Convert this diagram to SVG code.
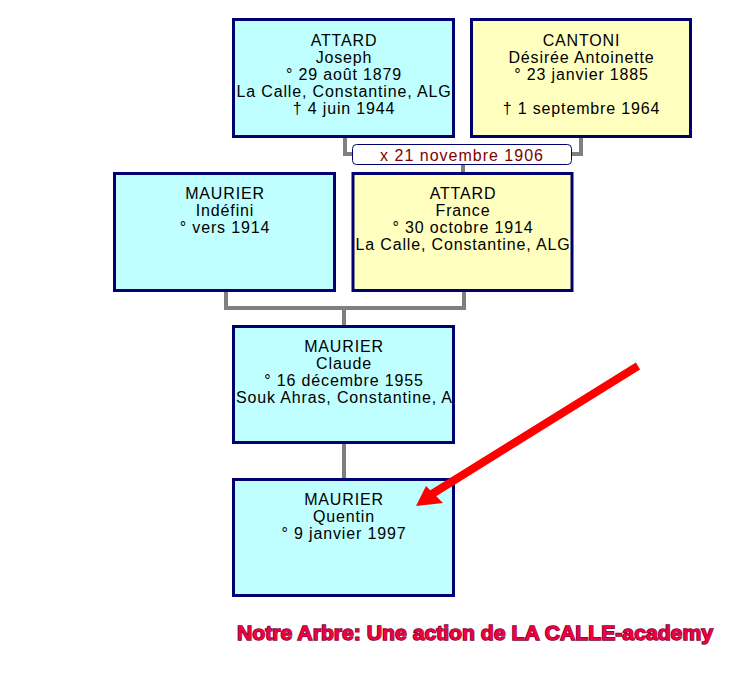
<svg xmlns="http://www.w3.org/2000/svg" width="732" height="674" viewBox="0 0 732 674">
<style>
.box{stroke:#000070;stroke-width:3}
.m{fill:#c0ffff}
.f{fill:#ffffc0}
.t{font-family:"Liberation Sans",Arial,sans-serif;font-size:16px;letter-spacing:0.85px;fill:#000;text-anchor:middle}
.conn{fill:none;stroke:#808080;stroke-width:4}
</style>
<defs>
<clipPath id="c1"><rect x="235" y="21" width="217" height="114"/></clipPath>
<clipPath id="c2"><rect x="473" y="21" width="217" height="114"/></clipPath>
<clipPath id="c3"><rect x="116" y="175" width="217" height="114"/></clipPath>
<clipPath id="c4"><rect x="354" y="175" width="217" height="114"/></clipPath>
<clipPath id="c5"><rect x="235" y="328" width="217" height="113"/></clipPath>
<clipPath id="c6"><rect x="235" y="481" width="217" height="113"/></clipPath>
</defs>
<rect width="732" height="674" fill="#fff"/>
<g id="connectors">
<path class="conn" d="M345 137V154H353"/>
<path class="conn" d="M581 137V154H572"/>
<path class="conn" d="M463 165V172"/>
<path class="conn" d="M226 291V308H464V291"/>
<path class="conn" d="M344 308V325"/>
<path class="conn" d="M344 443V478"/>
</g>
<g id="n1">
<rect class="box m" x="233.5" y="19.5" width="220" height="117"/>
<g clip-path="url(#c1)">
<text class="t" x="344" y="46">ATTARD</text>
<text class="t" x="344" y="63">Joseph</text>
<text class="t" x="344" y="80">° 29 août 1879</text>
<text class="t" x="344" y="97">La Calle, Constantine, ALG</text>
<text class="t" x="344" y="114">† 4 juin 1944</text>
</g>
</g>
<g id="n2">
<rect class="box f" x="471.5" y="19.5" width="219" height="117"/>
<g clip-path="url(#c2)">
<text class="t" x="581.5" y="46">CANTONI</text>
<text class="t" x="581.5" y="63">Désirée Antoinette</text>
<text class="t" x="581.5" y="80">° 23 janvier 1885</text>
<text class="t" x="581.5" y="114">† 1 septembre 1964</text>
</g>
</g>
<g id="marriage">
<rect x="352.5" y="144.5" width="219" height="20" rx="4" fill="#fff" stroke="#000070" stroke-width="1"/>
<text x="462" y="161" font-family="Liberation Sans,Arial,sans-serif" font-size="16" letter-spacing="1" fill="#800000" text-anchor="middle">x 21 novembre 1906</text>
</g>
<g id="n3">
<rect class="box m" x="114.5" y="173.5" width="220" height="117"/>
<g clip-path="url(#c3)">
<text class="t" x="225" y="199">MAURIER</text>
<text class="t" x="225" y="216">Indéfini</text>
<text class="t" x="225" y="233">° vers 1914</text>
</g>
</g>
<g id="n4">
<rect class="box f" x="353" y="173.5" width="219" height="117"/>
<g clip-path="url(#c4)">
<text class="t" x="463" y="199">ATTARD</text>
<text class="t" x="463" y="216">France</text>
<text class="t" x="463" y="233">° 30 octobre 1914</text>
<text class="t" x="463" y="250">La Calle, Constantine, ALG</text>
</g>
</g>
<g id="n5">
<rect class="box m" x="233.5" y="326.5" width="220" height="116"/>
<g clip-path="url(#c5)">
<text class="t" x="344" y="352">MAURIER</text>
<text class="t" x="344" y="369">Claude</text>
<text class="t" x="344" y="386">° 16 décembre 1955</text>
<text class="t" x="236" y="403" style="text-anchor:start">Souk Ahras, Constantine, ALG</text>
</g>
</g>
<g id="n6">
<rect class="box m" x="233.5" y="479.5" width="220" height="116"/>
<g clip-path="url(#c6)">
<text class="t" x="344" y="505">MAURIER</text>
<text class="t" x="344" y="522">Quentin</text>
<text class="t" x="344" y="539">° 9 janvier 1997</text>
</g>
</g>
<g id="arrow">
<line x1="638" y1="366" x2="432" y2="494" stroke="#ff0000" stroke-width="8"/>
<polygon points="416,506 426,486 443,503" fill="#ff0000"/>
</g>
<text x="237" y="640" textLength="476" lengthAdjust="spacingAndGlyphs" font-family="Liberation Sans,Arial,sans-serif" font-weight="bold" font-size="20" fill="#f0003c" stroke="#80003a" stroke-width="1.4" paint-order="stroke">Notre Arbre: Une action de LA CALLE-academy</text>
</svg>
